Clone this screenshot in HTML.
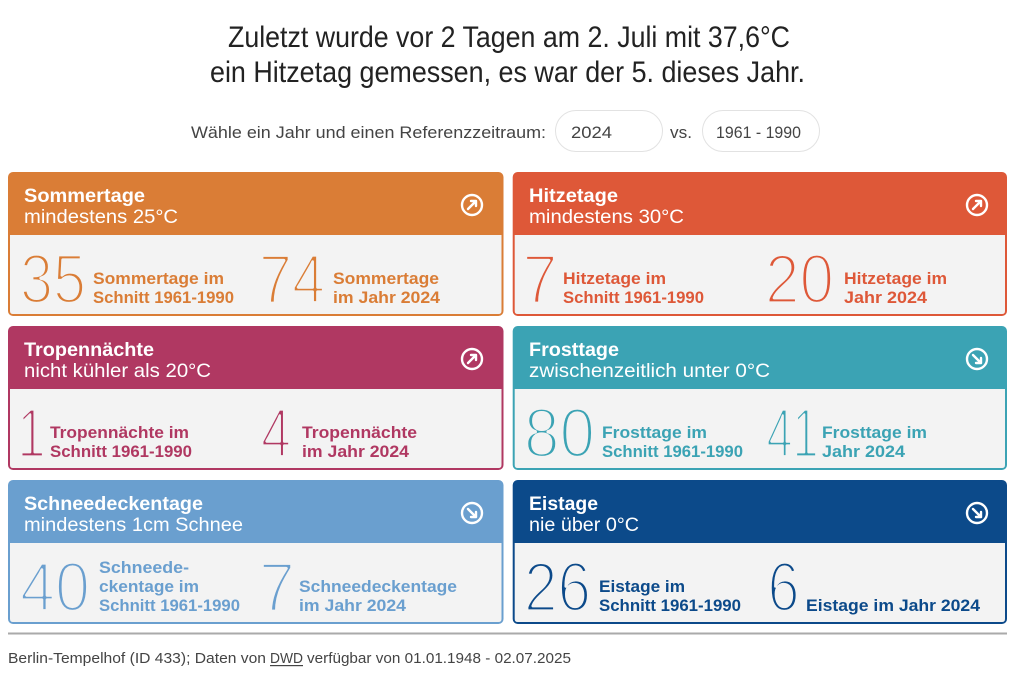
<!DOCTYPE html>
<html><head><meta charset="utf-8"><style>
html,body{margin:0;padding:0;background:#fff;}
svg{display:block;}
text{font-family:"Liberation Sans",sans-serif;}
.t{font-size:19.5px;font-weight:bold;fill:#fff;}
.s{font-size:19.5px;fill:#fff;}
.l{font-size:16.5px;font-weight:bold;}
.n{font-family:"Liberation Sans","DejaVu Sans",sans-serif;font-size:70px;font-weight:normal;stroke:#f3f3f3;stroke-width:3.2;stroke-linejoin:round;}
.ic{fill:none;stroke:#fff;stroke-width:2.4;stroke-linecap:round;stroke-linejoin:round;}
</style></head><body>
<svg width="1024" height="680" viewBox="0 0 1024 680" xmlns="http://www.w3.org/2000/svg">
<rect width="1024" height="680" fill="#fff"/>

<text x="228" y="47" font-size="30" fill="#222" textLength="562" lengthAdjust="spacingAndGlyphs">Zuletzt wurde vor 2 Tagen am 2. Juli mit 37,6°C</text>
<text x="210" y="82" font-size="30" fill="#222" textLength="595" lengthAdjust="spacingAndGlyphs">ein Hitzetag gemessen, es war der 5. dieses Jahr.</text>

<text x="191" y="138" font-size="16.5" fill="#444" textLength="355" lengthAdjust="spacingAndGlyphs">Wähle ein Jahr und einen Referenzzeitraum:</text>
<rect x="555.5" y="110.5" width="107" height="41" rx="20.5" fill="#fff" stroke="#e2e2e2"/>
<text x="571" y="138" font-size="16.5" fill="#444" textLength="41" lengthAdjust="spacingAndGlyphs">2024</text>
<text x="670" y="138" font-size="16.5" fill="#444" textLength="22" lengthAdjust="spacingAndGlyphs">vs.</text>
<rect x="702.5" y="110.5" width="117" height="41" rx="20.5" fill="#fff" stroke="#e2e2e2"/>
<text x="716" y="138" font-size="16.5" fill="#444" textLength="85" lengthAdjust="spacingAndGlyphs">1961 - 1990</text>

<!-- Card 1 Sommertage -->
<rect x="8" y="172" width="495.5" height="144" rx="5" fill="#da7d36"/>
<path d="M10,235 H501.5 V311 Q501.5,314 498.5,314 H13 Q10,314 10,311 Z" fill="#f3f3f3"/>
<text class="t" x="24" y="202" textLength="121" lengthAdjust="spacingAndGlyphs">Sommertage</text>
<text class="s" x="24" y="223" textLength="154" lengthAdjust="spacingAndGlyphs">mindestens 25°C</text>
<circle class="ic" cx="472" cy="205" r="10"/>
<path class="ic" d="M468,209 L476,201 M471,201 H476 V206"/>
<text class="n" x="20" y="303" fill="#da7d36" textLength="66" lengthAdjust="spacingAndGlyphs">35</text>
<text class="l" x="93" y="284" fill="#da7d36" textLength="131" lengthAdjust="spacingAndGlyphs">Sommertage im</text>
<text class="l" x="93" y="303" fill="#da7d36" textLength="141" lengthAdjust="spacingAndGlyphs">Schnitt 1961-1990</text>
<text class="n" x="259" y="303" fill="#da7d36" textLength="66" lengthAdjust="spacingAndGlyphs">74</text>
<text class="l" x="333" y="284" fill="#da7d36" textLength="106" lengthAdjust="spacingAndGlyphs">Sommertage</text>
<text class="l" x="333" y="303" fill="#da7d36" textLength="107" lengthAdjust="spacingAndGlyphs">im Jahr 2024</text>

<!-- Card 2 Hitzetage -->
<rect x="512.7" y="172" width="494.3" height="144" rx="5" fill="#de5838"/>
<path d="M514.7,235 H1005 V311 Q1005,314 1002,314 H517.7 Q514.7,314 514.7,311 Z" fill="#f3f3f3"/>
<text class="t" x="529" y="202" textLength="89" lengthAdjust="spacingAndGlyphs">Hitzetage</text>
<text class="s" x="529" y="223" textLength="155" lengthAdjust="spacingAndGlyphs">mindestens 30°C</text>
<circle class="ic" cx="977" cy="205" r="10"/>
<path class="ic" d="M973,209 L981,201 M976,201 H981 V206"/>
<text class="n" x="522.5" y="303" fill="#de5838" textLength="35" lengthAdjust="spacingAndGlyphs">7</text>
<text class="l" x="563" y="284" fill="#de5838" textLength="103" lengthAdjust="spacingAndGlyphs">Hitzetage im</text>
<text class="l" x="563" y="303" fill="#de5838" textLength="141" lengthAdjust="spacingAndGlyphs">Schnitt 1961-1990</text>
<text class="n" x="765" y="303" fill="#de5838" textLength="69" lengthAdjust="spacingAndGlyphs">20</text>
<text class="l" x="844" y="284" fill="#de5838" textLength="103" lengthAdjust="spacingAndGlyphs">Hitzetage im</text>
<text class="l" x="844" y="303" fill="#de5838" textLength="83" lengthAdjust="spacingAndGlyphs">Jahr 2024</text>

<!-- Card 3 Tropennächte -->
<rect x="8" y="326" width="495.5" height="144" rx="5" fill="#b03862"/>
<path d="M10,389 H501.5 V465 Q501.5,468 498.5,468 H13 Q10,468 10,465 Z" fill="#f3f3f3"/>
<text class="t" x="24" y="356" textLength="130" lengthAdjust="spacingAndGlyphs">Tropennächte</text>
<text class="s" x="24" y="377" textLength="187" lengthAdjust="spacingAndGlyphs">nicht kühler als 20°C</text>
<circle class="ic" cx="472" cy="359" r="10"/>
<path class="ic" d="M468,363 L476,355 M471,355 H476 V360"/>
<text class="n" x="17.5" y="457" fill="#b03862" textLength="28" lengthAdjust="spacingAndGlyphs">1</text>
<text class="l" x="50" y="438" fill="#b03862" textLength="139" lengthAdjust="spacingAndGlyphs">Tropennächte im</text>
<text class="l" x="50" y="457" fill="#b03862" textLength="142" lengthAdjust="spacingAndGlyphs">Schnitt 1961-1990</text>
<text class="n" x="261" y="457" fill="#b03862" textLength="30" lengthAdjust="spacingAndGlyphs">4</text>
<text class="l" x="302" y="438" fill="#b03862" textLength="115" lengthAdjust="spacingAndGlyphs">Tropennächte</text>
<text class="l" x="302" y="457" fill="#b03862" textLength="107" lengthAdjust="spacingAndGlyphs">im Jahr 2024</text>

<!-- Card 4 Frosttage -->
<rect x="512.7" y="326" width="494.3" height="144" rx="5" fill="#3ba3b4"/>
<path d="M514.7,389 H1005 V465 Q1005,468 1002,468 H517.7 Q514.7,468 514.7,465 Z" fill="#f3f3f3"/>
<text class="t" x="529" y="356" textLength="90" lengthAdjust="spacingAndGlyphs">Frosttage</text>
<text class="s" x="529" y="377" textLength="241" lengthAdjust="spacingAndGlyphs">zwischenzeitlich unter 0°C</text>
<circle class="ic" cx="977" cy="359" r="10"/>
<path class="ic" d="M973,355 L981,363 M981,358 V363 H976"/>
<text class="n" x="524" y="457" fill="#3ba3b4" textLength="71" lengthAdjust="spacingAndGlyphs">80</text>
<text class="l" x="602" y="438" fill="#3ba3b4" textLength="105" lengthAdjust="spacingAndGlyphs">Frosttage im</text>
<text class="l" x="602" y="457" fill="#3ba3b4" textLength="141" lengthAdjust="spacingAndGlyphs">Schnitt 1961-1990</text>
<text class="n" x="766.5" y="457" fill="#3ba3b4" textLength="52" lengthAdjust="spacingAndGlyphs">41</text>
<text class="l" x="822" y="438" fill="#3ba3b4" textLength="105" lengthAdjust="spacingAndGlyphs">Frosttage im</text>
<text class="l" x="822" y="457" fill="#3ba3b4" textLength="83" lengthAdjust="spacingAndGlyphs">Jahr 2024</text>

<!-- Card 5 Schneedeckentage -->
<rect x="8" y="480" width="495.5" height="144" rx="5" fill="#6a9fcf"/>
<path d="M10,543 H501.5 V619 Q501.5,622 498.5,622 H13 Q10,622 10,619 Z" fill="#f3f3f3"/>
<text class="t" x="24" y="510" textLength="179" lengthAdjust="spacingAndGlyphs">Schneedeckentage</text>
<text class="s" x="24" y="531" textLength="219" lengthAdjust="spacingAndGlyphs">mindestens 1cm Schnee</text>
<circle class="ic" cx="472" cy="513" r="10"/>
<path class="ic" d="M468,509 L476,517 M476,512 V517 H471"/>
<text class="n" x="20" y="611" fill="#6a9fcf" textLength="70" lengthAdjust="spacingAndGlyphs">40</text>
<text class="l" x="99" y="573" fill="#6a9fcf" textLength="90" lengthAdjust="spacingAndGlyphs">Schneede-</text>
<text class="l" x="99" y="592" fill="#6a9fcf" textLength="100" lengthAdjust="spacingAndGlyphs">ckentage im</text>
<text class="l" x="99" y="611" fill="#6a9fcf" textLength="141" lengthAdjust="spacingAndGlyphs">Schnitt 1961-1990</text>
<text class="n" x="259" y="611" fill="#6a9fcf" textLength="36" lengthAdjust="spacingAndGlyphs">7</text>
<text class="l" x="299" y="592" fill="#6a9fcf" textLength="158" lengthAdjust="spacingAndGlyphs">Schneedeckentage</text>
<text class="l" x="299" y="611" fill="#6a9fcf" textLength="107" lengthAdjust="spacingAndGlyphs">im Jahr 2024</text>

<!-- Card 6 Eistage -->
<rect x="512.7" y="480" width="494.3" height="144" rx="5" fill="#0c4a8a"/>
<path d="M514.7,543 H1005 V619 Q1005,622 1002,622 H517.7 Q514.7,622 514.7,619 Z" fill="#f3f3f3"/>
<text class="t" x="529" y="510" textLength="69" lengthAdjust="spacingAndGlyphs">Eistage</text>
<text class="s" x="529" y="531" textLength="110" lengthAdjust="spacingAndGlyphs">nie über 0°C</text>
<circle class="ic" cx="977" cy="513" r="10"/>
<path class="ic" d="M973,509 L981,517 M981,512 V517 H976"/>
<text class="n" x="524" y="611" fill="#0c4a8a" textLength="67" lengthAdjust="spacingAndGlyphs">26</text>
<text class="l" x="599" y="592" fill="#0c4a8a" textLength="86" lengthAdjust="spacingAndGlyphs">Eistage im</text>
<text class="l" x="599" y="611" fill="#0c4a8a" textLength="142" lengthAdjust="spacingAndGlyphs">Schnitt 1961-1990</text>
<text class="n" x="767.5" y="611" fill="#0c4a8a" textLength="32" lengthAdjust="spacingAndGlyphs">6</text>
<text class="l" x="806" y="611" fill="#0c4a8a" textLength="174" lengthAdjust="spacingAndGlyphs">Eistage im Jahr 2024</text>

<!-- Footer -->
<rect x="8" y="632.5" width="999" height="2" fill="#aaaaaa"/>
<text x="8" y="663" font-size="15" fill="#444" textLength="258" lengthAdjust="spacingAndGlyphs">Berlin-Tempelhof (ID 433); Daten von</text>
<text x="270" y="663" font-size="15" fill="#444" textLength="33" lengthAdjust="spacingAndGlyphs">DWD</text>
<rect x="270" y="665" width="33" height="1.2" fill="#444"/>
<text x="307" y="663" font-size="15" fill="#444" textLength="264" lengthAdjust="spacingAndGlyphs">verfügbar von 01.01.1948 - 02.07.2025</text>
</svg>
</body></html>
